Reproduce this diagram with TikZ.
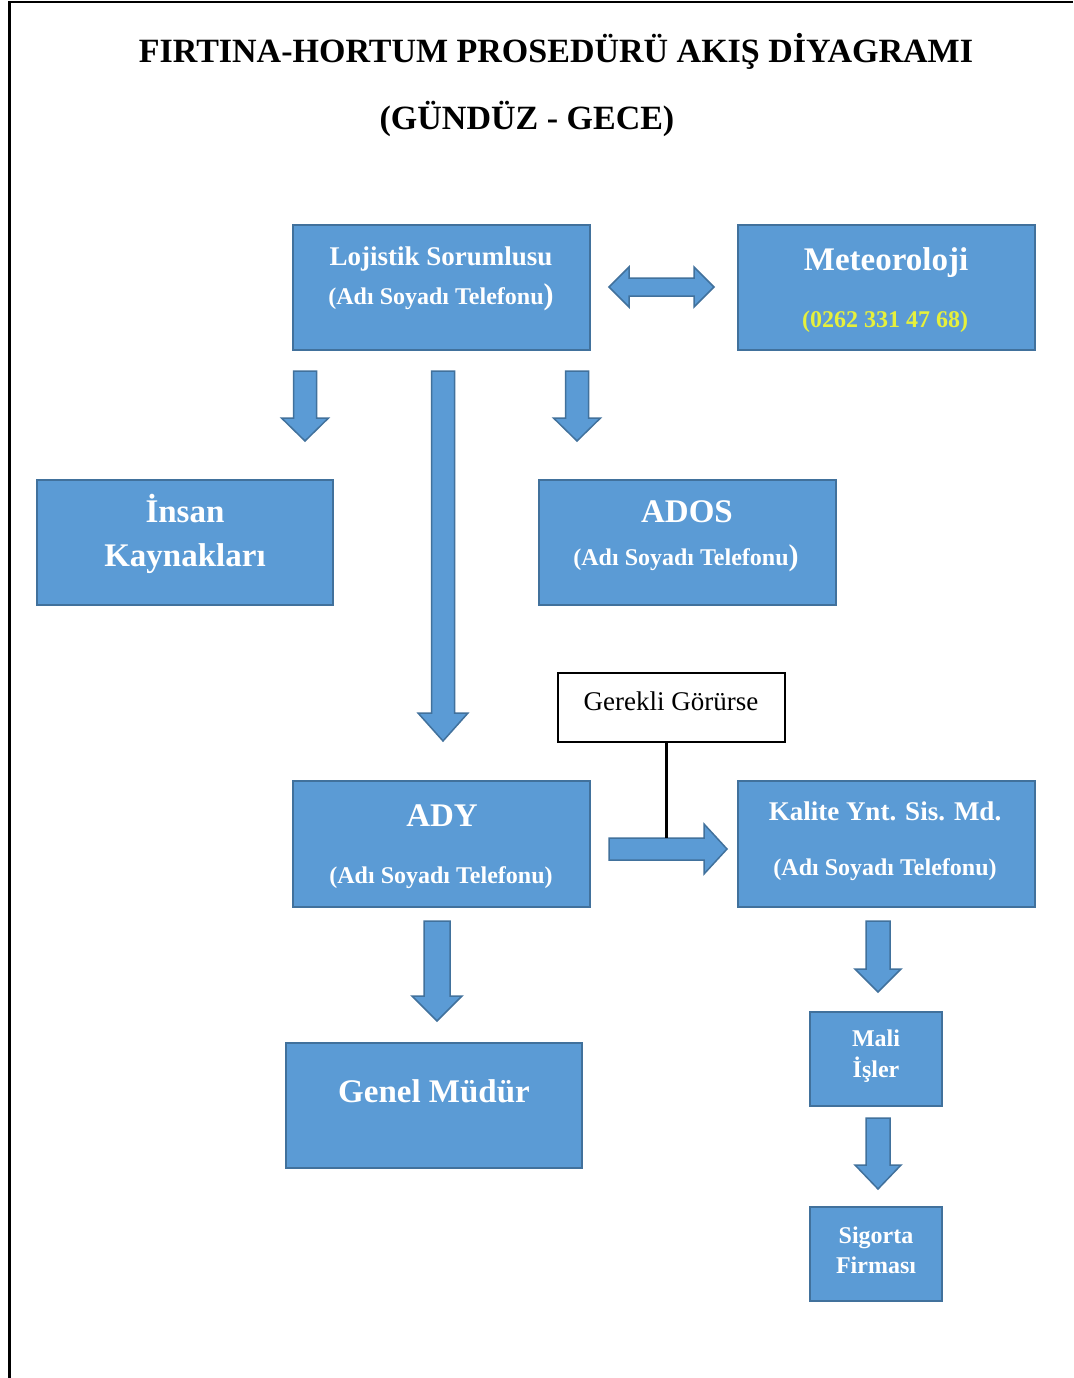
\documentclass[tikz,border=0pt]{standalone}
\usepackage{fontspec}
\setmainfont{Liberation Serif}
\usetikzlibrary{calc}

\definecolor{boxblue}{HTML}{5B9BD5}
\definecolor{boxedge}{HTML}{41719C}
\definecolor{phoneyellow}{HTML}{E6F03C}

\newcommand\fsz[1]{\fontsize{#1}{#1}\selectfont}

% downward block arrow: x, from node, to node, top gap, bottom gap, shaft half, head half, head length
\newcommand\vblock[8]{%
  \draw[blk] let \p1=(#2.south), \p2=(#3.north) in
    (#1pt-#6pt, \y1-#4pt) -- (#1pt+#6pt, \y1-#4pt)
    -- (#1pt+#6pt, \y2+#5pt+#8pt) -- (#1pt+#7pt, \y2+#5pt+#8pt)
    -- (#1pt, \y2+#5pt)
    -- (#1pt-#7pt, \y2+#5pt+#8pt) -- (#1pt-#6pt, \y2+#5pt+#8pt) -- cycle;}

% rightward block arrow: y, from node, to node, left gap, right gap, shaft half, head half, head length
\newcommand\hblock[8]{%
  \draw[blk] let \p1=(#2.east), \p2=(#3.west) in
    (\x1+#4pt, -#1pt+#6pt) -- (\x2-#5pt-#8pt, -#1pt+#6pt)
    -- (\x2-#5pt-#8pt, -#1pt+#7pt) -- (\x2-#5pt, -#1pt)
    -- (\x2-#5pt-#8pt, -#1pt-#7pt) -- (\x2-#5pt-#8pt, -#1pt-#6pt)
    -- (\x1+#4pt, -#1pt-#6pt) -- cycle;}

% two-headed block arrow between two nodes
\newcommand\dblock[8]{%
  \draw[blk] let \p1=(#2.east), \p2=(#3.west) in
    (\x1+#4pt, -#1pt) -- (\x1+#4pt+#8pt, -#1pt+#7pt) -- (\x1+#4pt+#8pt, -#1pt+#6pt)
    -- (\x2-#5pt-#8pt, -#1pt+#6pt) -- (\x2-#5pt-#8pt, -#1pt+#7pt) -- (\x2-#5pt, -#1pt)
    -- (\x2-#5pt-#8pt, -#1pt-#7pt) -- (\x2-#5pt-#8pt, -#1pt-#6pt)
    -- (\x1+#4pt+#8pt, -#1pt-#6pt) -- (\x1+#4pt+#8pt, -#1pt-#7pt) -- cycle;}

\begin{document}
\begin{tikzpicture}[x=1pt,y=-1pt,
  panel/.style={draw=boxedge, line width=2pt, fill=boxblue, inner sep=0pt},
  widepanel/.style={panel, minimum width=297pt, minimum height=125pt},
  smallpanel/.style={panel, minimum width=132pt, minimum height=94pt},
  note/.style={draw=black, line width=1.3pt, fill=white, inner sep=0pt,
               minimum width=227pt, minimum height=69pt},
  blk/.style={draw=boxedge, line width=1.5pt, fill=boxblue, line join=miter},
  lbl/.style={text=white, font=\bfseries, anchor=base, inner sep=0pt},
  big/.style={lbl, font=\bfseries\fsz{33}},
  mid/.style={lbl, font=\bfseries\fsz{27}},
  sml/.style={lbl, font=\bfseries\fsz{24}},
  heading/.style={anchor=base, inner sep=0pt, font=\bfseries\fsz{34}},
  tap/.style={draw=black, line width=3pt}]

\useasboundingbox (0,0) rectangle (1073,1378);
\fill[white] (0,0) rectangle (1073,1378);

% page frame
\draw[line width=2.5pt, line join=miter] (9.5,1378) -- (9.5,2) -- (1073,2);

% title
\node[heading] (title1) at (556,63) {FIRTINA-HORTUM PROSEDÜRÜ AKIŞ DİYAGRAMI};
\node[heading] (title2) at (527,129) {(GÜNDÜZ - GECE)};

% boxes
\node[widepanel] (loj)  at (441.5,287.5) {};
\node[widepanel] (met)  at (886.5,287.5) {};
\node[widepanel, minimum width=296pt] (ik) at (185,542.5) {};
\node[widepanel] (ados) at (687.5,542.5) {};
\node[note] (gg) at (671.5,707.5) {};
\node[widepanel, minimum height=126pt] (ady) at (441.5,844) {};
\node[widepanel, minimum height=126pt] (kys) at (886.5,844) {};
\node[widepanel, minimum width=296pt] (gm) at (434,1105.5) {};
\node[smallpanel] (mali) at (876,1059) {};
\node[smallpanel] (sig)  at (876,1254) {};

% box texts
\node[mid] at (441,265) {Lojistik Sorumlusu};
\node[sml] at (441,304) {(Adı Soyadı Telefonu{\fsz{30})}};
\node[big] at (886,270) {Meteoroloji};
\node[sml, text=phoneyellow] at (885,327) {(0262 331 47 68)};
\node[big] at (185,522) {İnsan};
\node[big] at (185,566) {Kaynakları};
\node[big] at (687,522) {ADOS};
\node[sml] at (686,565) {(Adı Soyadı Telefonu{\fsz{30})}};
\node[anchor=base, inner sep=0pt, font=\fsz{27}] at (671,710) {Gerekli Görürse};
\node[big] at (442,826) {ADY};
\node[sml] at (441,883) {(Adı Soyadı Telefonu)};
\node[mid] at (885,820) {Kalite Ynt. Sis. Md.};
\node[sml] at (885,875) {(Adı Soyadı Telefonu)};
\node[big] at (434,1102) {Genel Müdür};
\node[sml] at (876,1046) {Mali};
\node[sml] at (876,1077) {İşler};
\node[sml] at (876,1243) {Sigorta};
\node[sml] at (876,1273) {Firması};

% block arrows
\dblock{287}{loj}{met}{18}{23}{9}{20}{20}
\vblock{305}{loj}{ik}{20}{38}{11.5}{23.5}{23}
\vblock{443}{loj}{ady}{20}{39}{11.5}{25}{28}
\vblock{577}{loj}{ados}{20}{38}{11.5}{23.5}{23}
\hblock{849}{ady}{kys}{18}{10}{11}{25}{23}
\vblock{437}{ady}{gm}{13}{21}{13}{25}{25}
\vblock{878}{kys}{mali}{13}{19}{12}{23}{23}
\vblock{878}{mali}{sig}{11}{17}{12}{23}{24}

% condition line onto the ADY -> Kalite arrow
\coordinate (gtap) at (666,838);
\draw[tap] (gg.south -| gtap) -- (gtap);

\end{tikzpicture}
\end{document}
